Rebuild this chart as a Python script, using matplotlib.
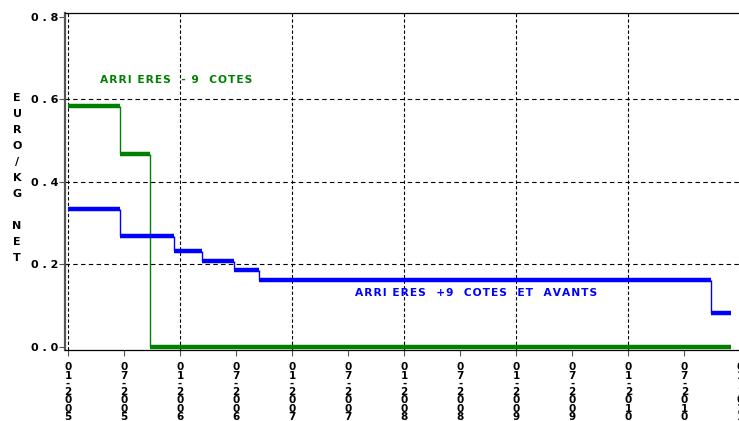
import matplotlib
matplotlib.use("Agg")
import matplotlib.pyplot as plt

plt.rcParams['font.family'] = ['DejaVu Sans']

# mois depuis 01-2005
verte_debut = [0, 5.57, 8.79]
verte_fin = [5.57, 8.79, 71.0]
verte_val = [0.585, 0.468, 0.0]

bleue_debut = [0, 5.57, 11.36, 14.36, 17.8, 20.5, 68.9]
bleue_fin = [5.57, 11.36, 14.36, 17.8, 20.5, 68.9, 71.0]
bleue_val = [0.335, 0.269, 0.2335, 0.209, 0.1875, 0.1625, 0.0817]

tick_mois = list(range(0, 73, 6))
tick_labels = []
for m in tick_mois:
    mois = "01" if m % 12 == 0 else "07"
    annee = str(2005 + m // 12)
    tick_labels.append("\n".join(mois + "-" + annee))

y_ticks = [0.0, 0.2, 0.4, 0.6, 0.8]
y_labels = ["0 . 0", "0 . 2", "0 . 4", "0 . 6", "0 . 8"]

titre_verte = "ARRI ERES  - 9  COTES"
titre_bleue = "ARRI ERES  +9  COTES  ET  AVANTS"


def espace(s):
    # espacement des lettres comme sur l'original
    return "\u200a".join(s)


W, H = 739, 421
fig = plt.figure(figsize=(W / 100, H / 100), dpi=100)
x0, x1 = 65, 745
y0, y1 = 350, 13
ax = fig.add_axes([x0 / W, 1 - y0 / H, (x1 - x0) / W, (y0 - y1) / H])
ax.set_xlim(-0.32, 72.5)
ax.set_ylim(-0.0073, 0.8097)

def escalier(debut, fin, val, couleur):
    ax.hlines(val, debut, fin, colors=couleur, lw=3.2, zorder=3)
    for i in range(1, len(val)):
        ax.vlines(debut[i], val[i], val[i - 1], colors=couleur, lw=1.0, zorder=3)

escalier(verte_debut, verte_fin, verte_val, '#008000')
escalier(bleue_debut, bleue_fin, bleue_val, '#0000ff')

# grille
for m in range(0, 73, 12):
    ax.axvline(m, color='black', ls=(0, (3, 2)), lw=0.8, zorder=1)
for v in [0.2, 0.4, 0.6]:
    ax.axhline(v, color='black', ls=(0, (4, 3)), lw=0.8, zorder=1)

ax.set_xticks(tick_mois)
ax.set_xticklabels(tick_labels, fontsize=7.5, fontweight='bold', linespacing=0.78, va='top')
ax.set_yticks(y_ticks)
ax.set_yticklabels(y_labels, fontsize=8, fontweight='bold')
ax.tick_params(axis='both', direction='out', length=4, width=0.8, color='#555555')
ax.tick_params(axis='x', pad=5)
ax.tick_params(axis='y', pad=1)
for s in ax.spines.values():
    s.set_linewidth(0.9)
ax.spines['left'].set_linewidth(1.6)
ax.spines['left'].set_color('#555555')

fig.text(17 / W, 1 - 178 / H, "\n".join("EUROKG NET".replace("K", "/K")),
         ha='center', va='center', fontsize=8, fontweight='bold', linespacing=1.76)

fig.text(100 / W, 1 - 80 / H, espace(titre_verte), color='#008000',
         fontsize=7.7, fontweight='bold', va='center', ha='left')
fig.text(355 / W, 1 - 293 / H, espace(titre_bleue), color='#0000ff',
         fontsize=7.7, fontweight='bold', va='center', ha='left')

fig.savefig("out.png", dpi=100)
